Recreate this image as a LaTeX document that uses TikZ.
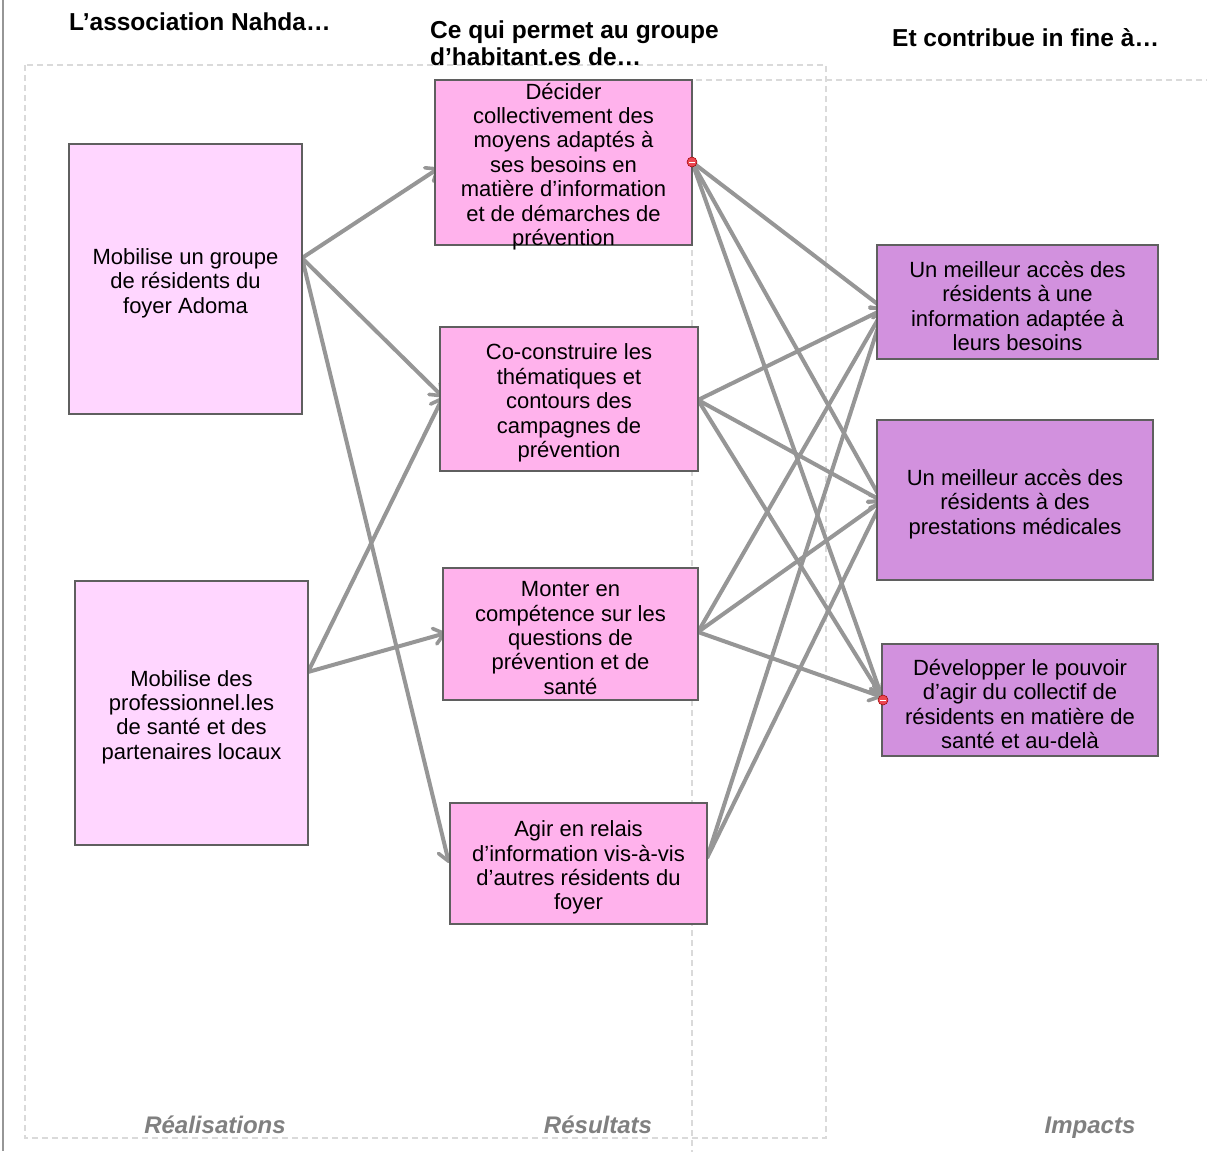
\documentclass[tikz,border=0pt]{standalone}
\usepackage{fontspec}
\setmainfont{Liberation Sans}
\usetikzlibrary{arrows.meta}
\definecolor{realfill}{RGB}{255,214,255}
\definecolor{resfill}{RGB}{255,178,236}
\definecolor{impfill}{RGB}{210,145,222}
\definecolor{boxline}{RGB}{95,95,95}
\definecolor{arrowgray}{RGB}{150,150,150}
\definecolor{dashgray}{RGB}{218,218,218}
\definecolor{footgray}{RGB}{128,128,128}
\definecolor{dotred}{RGB}{235,70,80}
\begin{document}
\begin{tikzpicture}[x=1pt,y=-1pt,
  box/.style={draw=boxline,line width=1.3pt,inner sep=0pt},
  boxtext/.style={align=center,inner sep=0pt,yshift=-4pt,
    font=\fontsize{22}{24.4}\selectfont},
  real/.style={box,fill=realfill},
  res/.style={box,fill=resfill},
  imp/.style={box,fill=impfill},
  link/.style={draw=arrowgray,line width=4pt,
    -{Straight Barb[length=10pt,width=16pt,line width=3.6pt,round]}},
  head/.style={anchor=base west,inner sep=0pt,font=\fontsize{24.5}{27}\selectfont\bfseries},
  foot/.style={anchor=base,inner sep=0pt,text=footgray,font=\fontsize{24}{26}\selectfont\bfseries\itshape},
  zone/.style={draw=dashgray,line width=1.4pt,dash pattern=on 6pt off 4pt},
  reddot/.style={circle,inner sep=0pt,minimum size=10pt,fill=dotred,draw=red!60!black,line width=0.5pt,
    path picture={\draw[white,line width=1pt] ([xshift=-3pt]path picture bounding box.center) -- ([xshift=3pt]path picture bounding box.center);}}
]
\useasboundingbox (0,0) rectangle (1207,1151);
\fill[white] (0,0) rectangle (1207,1151);

% left border
\draw[arrowgray,line width=2.5pt] (3,0) -- (3,1151);

% dashed zones
\draw[zone] (25,65) rectangle (826,1138);
\draw[zone] (1212,80) -- (692,80) -- (692,1156);

% headers
\node[head] (h1) at (69,30.5) {L’association Nahda…};
\node[head] (h2a) at (430,38.5) {Ce qui permet au groupe};
\node[head] (h2b) at (430,65.5) {d’habitant.es de…};
\node[head] (h3) at (892,46.5) {Et contribue in fine à…};

% footers
\node[foot] (f1) at (215,1133.5) {Réalisations};
\node[foot] (f2) at (598,1133.5) {Résultats};
\node[foot] (f3) at (1090,1133.5) {Impacts};

% connection points
\coordinate (A1o) at (302,258);
\coordinate (A2o) at (308,672);
\coordinate (R1i) at (439,168);
\coordinate (R2i) at (443,397);
\coordinate (R3i) at (446,633);
\coordinate (R4i) at (449,863);
\coordinate (R1o) at (692,162);
\coordinate (R2o) at (698,400);
\coordinate (R3o) at (698,632);
\coordinate (R4o) at (707,858);
\coordinate (I1i) at (884,309);
\coordinate (I2i) at (882,501);
\coordinate (I3i) at (882,697);

% connectors
\draw[link] (A1o) -- (R1i);
\draw[link] (A1o) -- (R2i);
\draw[link] (A1o) -- (R4i);
\draw[link] (A2o) -- (R2i);
\draw[link] (A2o) -- (R3i);
\draw[link] (R1o) -- (I1i);
\draw[link] (R1o) -- (I2i);
\draw[link] (R1o) -- (I3i);
\draw[link] (R2o) -- (I1i);
\draw[link] (R2o) -- (I2i);
\draw[link] (R2o) -- (I3i);
\draw[link] (R3o) -- (I1i);
\draw[link] (R3o) -- (I2i);
\draw[link] (R3o) -- (I3i);
\draw[link] (R4o) -- (I1i);
\draw[link] (R4o) -- (I2i);

% boxes
\node[real,minimum width=233pt,minimum height=270pt,
  label={[boxtext]center:{Mobilise un groupe\\de résidents du\\foyer Adoma}}] (A1) at (185.5,279) {};
\node[real,minimum width=233pt,minimum height=264pt,
  label={[boxtext]center:{Mobilise des\\professionnel.les\\de santé et des\\partenaires locaux}}] (A2) at (191.5,713) {};
\node[res,minimum width=257pt,minimum height=165pt,
  label={[boxtext]center:{Décider\\collectivement des\\moyens adaptés à\\ses besoins en\\matière d’information\\et de démarches de\\prévention}}] (R1) at (563.5,162.5) {};
\node[res,minimum width=258pt,minimum height=144pt,
  label={[boxtext]center:{Co-construire les\\thématiques et\\contours des\\campagnes de\\prévention}}] (R2) at (569,399) {};
\node[res,minimum width=255pt,minimum height=132pt,
  label={[boxtext]center:{Monter en\\compétence sur les\\questions de\\prévention et de\\santé}}] (R3) at (570.5,634) {};
\node[res,minimum width=257pt,minimum height=121pt,
  label={[boxtext]center:{Agir en relais\\d’information vis-à-vis\\d’autres résidents du\\foyer}}] (R4) at (578.5,863.5) {};
\node[imp,minimum width=281pt,minimum height=114pt,
  label={[boxtext]center:{Un meilleur accès des\\résidents à une\\information adaptée à\\leurs besoins}}] (I1) at (1017.5,302) {};
\node[imp,minimum width=276pt,minimum height=160pt,
  label={[boxtext]center:{Un meilleur accès des\\résidents à des\\prestations médicales}}] (I2) at (1015,500) {};
\node[imp,minimum width=276pt,minimum height=112pt,
  label={[boxtext]center:{Développer le pouvoir\\d’agir du collectif de\\résidents en matière de\\santé et au-delà}}] (I3) at (1020,700) {};

% connection glyphs
\node[reddot] (d1) at (R1o) {};
\node[reddot] (d2) at (883,700) {};
\end{tikzpicture}
\end{document}
